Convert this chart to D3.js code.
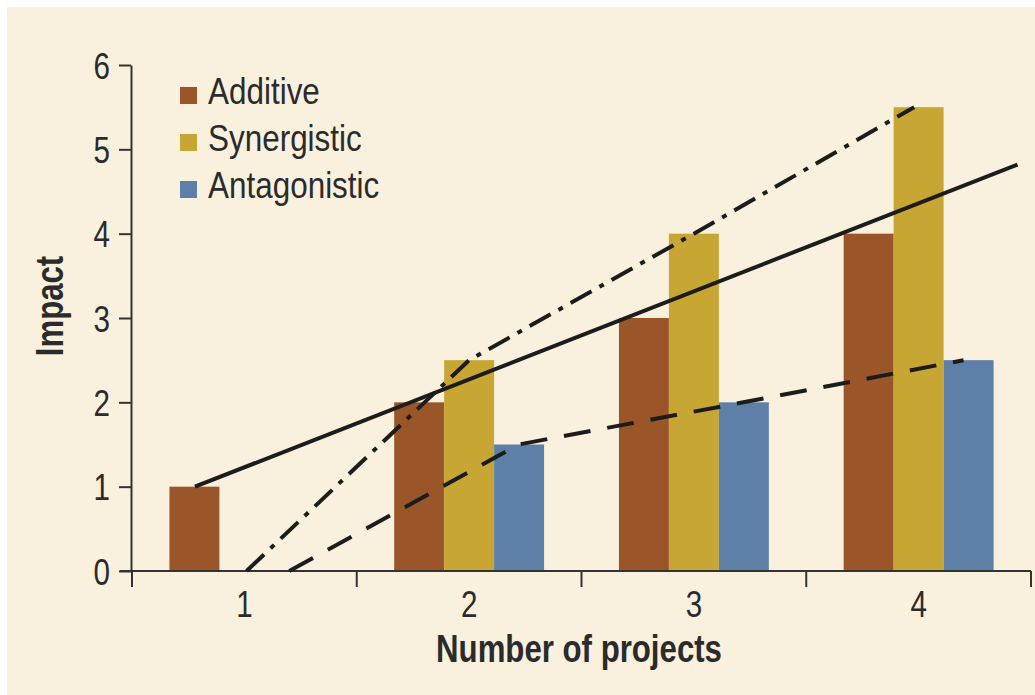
<!DOCTYPE html>
<html>
<head>
<meta charset="utf-8">
<script src="https://cdn.jsdelivr.net/npm/d3@7"></script>
<style>
    body { margin: 0; background: #ffffff; }
    svg text { font-family: "Liberation Sans", Arial, sans-serif; fill: #2b2b2b; }
</style>
</head>
<body>
<div id="chart"></div>
<script>
// data
const projects = [1, 2, 3, 4]
const seriesNames = ['Additive', 'Synergistic', 'Antagonistic']
const additive = [1, 2, 3, 4]
const synergistic = [0, 2.5, 4, 5.5]
const antagonistic = [0, 1.5, 2, 2.5]
const yTicks = [0, 1, 2, 3, 4, 5, 6]

// trend lines, x in "number of projects" units
const lineAdditive = [[0.78, 1], [4.44, 4.82]]
const lineSynergistic = [[1.01, 0], [2, 2.5], [3, 4], [3.98, 5.5]]
const lineAntagonistic = [[1.2, 0], [2.22, 1.5], [3.22, 2], [4.2, 2.5]]

const W = 1035, H = 695
const margin = { left: 132, right: 4, top: 65, bottom: 124 }
const squeeze = 0.8   // the source type is a condensed face

const svg = d3.select('#chart')
    .append('svg')
    .attr('width', W)
    .attr('height', H)

svg.append('rect')
    .attr('x', 7).attr('y', 7)
    .attr('width', W - 7).attr('height', H - 7)
    .attr('fill', '#f9f1de')

const colorScale = d3.scaleOrdinal()
    .domain(seriesNames)
    .range(['#9a5628', '#c8a634', '#5e7fa7'])

////////////////////////////////////
//////////////scales////////////////
////////////////////////////////////
const xScale = d3.scaleBand()
    .domain(projects)
    .range([margin.left, W - margin.right])
    .paddingInner(0.333)
    .paddingOuter(0.1665)

const xSub = d3.scaleBand()
    .domain(seriesNames)
    .range([0, xScale.bandwidth()])

const xLin = d3.scaleLinear()
    .domain([0.5, 4.5])
    .range([margin.left, W - margin.right])

const yScale = d3.scaleLinear()
    .domain([0, 6])
    .range([H - margin.bottom, margin.top])

////////////////////////////////////
/////////////// bars ///////////////
////////////////////////////////////
const rows = []
projects.forEach((p, i) => {
    rows.push({ p, s: 'Additive', v: additive[i] })
    rows.push({ p, s: 'Synergistic', v: synergistic[i] })
    rows.push({ p, s: 'Antagonistic', v: antagonistic[i] })
})

svg.append('g')
    .selectAll('rect')
    .data(rows.filter(d => d.v > 0))
    .join('rect')
    .attr('x', d => xScale(d.p) + xSub(d.s))
    .attr('width', xSub.bandwidth())
    .attr('y', d => yScale(d.v))
    .attr('height', d => yScale(0) - yScale(d.v))
    .attr('fill', d => colorScale(d.s))

////////////////////////////////////
///////////// axis /////////////////
////////////////////////////////////
const axisColor = '#333'

const yAxis = svg.append('g')
    .attr('transform', `translate(${margin.left - 1},0)`)
    .call(d3.axisLeft(yScale).tickValues(yTicks).tickFormat(d3.format('d')).tickSize(12).tickSizeOuter(0))
yAxis.select('.domain').attr('stroke', axisColor).attr('stroke-width', 2)
yAxis.selectAll('.tick line').attr('stroke', axisColor).attr('stroke-width', 2)
yAxis.selectAll('.tick text')
    .attr('font-size', 37)
    .attr('x', -21 / squeeze)
    .attr('dy', '0.36em')
    .attr('transform', `scale(${squeeze},1)`)
    .attr('fill', '#3a3a3a')
    .style('font-family', null)

// x axis: ticks sit on the category boundaries
const xAxisG = svg.append('g')
    .attr('transform', `translate(0,${yScale(0)})`)
xAxisG.append('line')
    .attr('x1', margin.left - 12).attr('x2', xLin(4.5))
    .attr('stroke', axisColor).attr('stroke-width', 2)
xAxisG.selectAll('.bound')
    .data([0.5, 1.5, 2.5, 3.5, 4.5])
    .join('line')
    .attr('x1', d => xLin(d)).attr('x2', d => xLin(d))
    .attr('y1', 0).attr('y2', 16)
    .attr('stroke', axisColor).attr('stroke-width', 2)
xAxisG.selectAll('.lab')
    .data(projects)
    .join('text')
    .attr('transform', d => `translate(${xScale(d) + xScale.bandwidth() / 2},46) scale(${squeeze},1)`)
    .attr('text-anchor', 'middle')
    .attr('font-size', 37)
    .attr('fill', '#3a3a3a')
    .text(d => d)

svg.append('text')
    .text('Number of projects')
    .attr('transform', `translate(579,662) scale(${squeeze},1)`)
    .attr('text-anchor', 'middle')
    .attr('font-size', 39)
    .attr('font-weight', 'bold')
    .attr('fill', '#111')

svg.append('text')
    .text('Impact')
    .attr('text-anchor', 'middle')
    .attr('font-size', 39)
    .attr('font-weight', 'bold')
    .attr('fill', '#111')
    .attr('transform', `translate(63,306) rotate(-90) scale(${squeeze},1)`)

////////////////////////////////////
/////////// trend lines ////////////
////////////////////////////////////
const line = d3.line()
    .x(d => xLin(d[0]))
    .y(d => yScale(d[1]))

const trends = [
    { pts: lineAdditive, dash: null },
    { pts: lineSynergistic, dash: '24 9 5 9' },
    { pts: lineAntagonistic, dash: '27 17' }
]

svg.append('g')
    .selectAll('path')
    .data(trends)
    .join('path')
    .attr('d', d => line(d.pts))
    .attr('fill', 'none')
    .attr('stroke', '#1c1c1c')
    .attr('stroke-width', 4)
    .attr('stroke-dasharray', d => d.dash)

////////////////////////////////////
////////////// legend //////////////
////////////////////////////////////
const legend = svg.append('g')
    .selectAll('g')
    .data(seriesNames)
    .join('g')
    .attr('transform', (d, i) => `translate(180,${104 + i * 47})`)

legend.append('rect')
    .attr('x', 0).attr('y', -17)
    .attr('width', 17).attr('height', 17)
    .attr('fill', d => colorScale(d))

legend.append('text')
    .attr('transform', `translate(28,0) scale(0.85,1)`)
    .attr('font-size', 37)
    .attr('fill', '#2b2b2b')
    .text(d => d)
</script>
</body>
</html>
